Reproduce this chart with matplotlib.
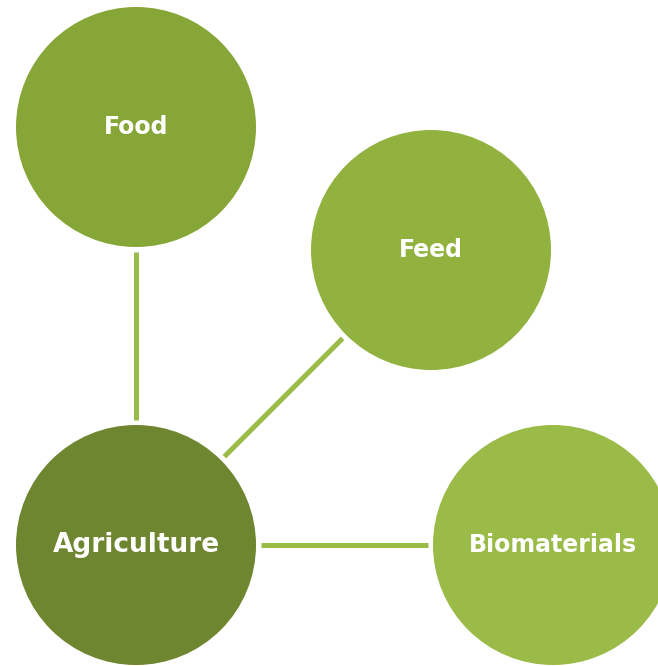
import matplotlib
matplotlib.use("Agg")
from matplotlib import pyplot as plt
from matplotlib.patches import Circle

# nodes of the diagram and the links between them
nodes = ["Food", "Feed", "Agriculture", "Biomaterials"]
links = [("Agriculture", "Food"), ("Agriculture", "Feed"), ("Agriculture", "Biomaterials")]

# layout (pixel coords, y downwards)
centers = {"Food": (136, 127), "Feed": (431, 250),
           "Agriculture": (136, 545), "Biomaterials": (553, 545)}
radius = 120
fills = {"Food": "#87a638", "Feed": "#92b23f",
         "Agriculture": "#6f8630", "Biomaterials": "#9bbb48"}
fsizes = {"Food": 17, "Feed": 17, "Agriculture": 19, "Biomaterials": 17}
line_col = "#9bbb48"
gap = 5  # space between line end and circle edge

fig = plt.figure(figsize=(6.58, 6.66), dpi=100)
ax = fig.add_axes([0, 0, 1, 1])
ax.set_xlim(0, 658)
ax.set_ylim(666, 0)
ax.set_aspect("equal")
ax.axis("off")

for a, b in links:
    x0, y0 = centers[a]
    x1, y1 = centers[b]
    d = ((x1 - x0) ** 2 + (y1 - y0) ** 2) ** 0.5
    ux, uy = (x1 - x0) / d, (y1 - y0) / d
    r = radius + gap
    ax.plot([x0 + ux * r, x1 - ux * r], [y0 + uy * r, y1 - uy * r],
            color=line_col, lw=3.6, solid_capstyle="butt", zorder=1)

for n in nodes:
    ax.add_patch(Circle(centers[n], radius, color=fills[n], lw=0, zorder=2))
    ax.text(centers[n][0], centers[n][1], n, color="white", fontsize=fsizes[n],
            fontweight="bold", ha="center", va="center", zorder=3,
            family="DejaVu Sans")

fig.savefig("out.png", dpi=100)
